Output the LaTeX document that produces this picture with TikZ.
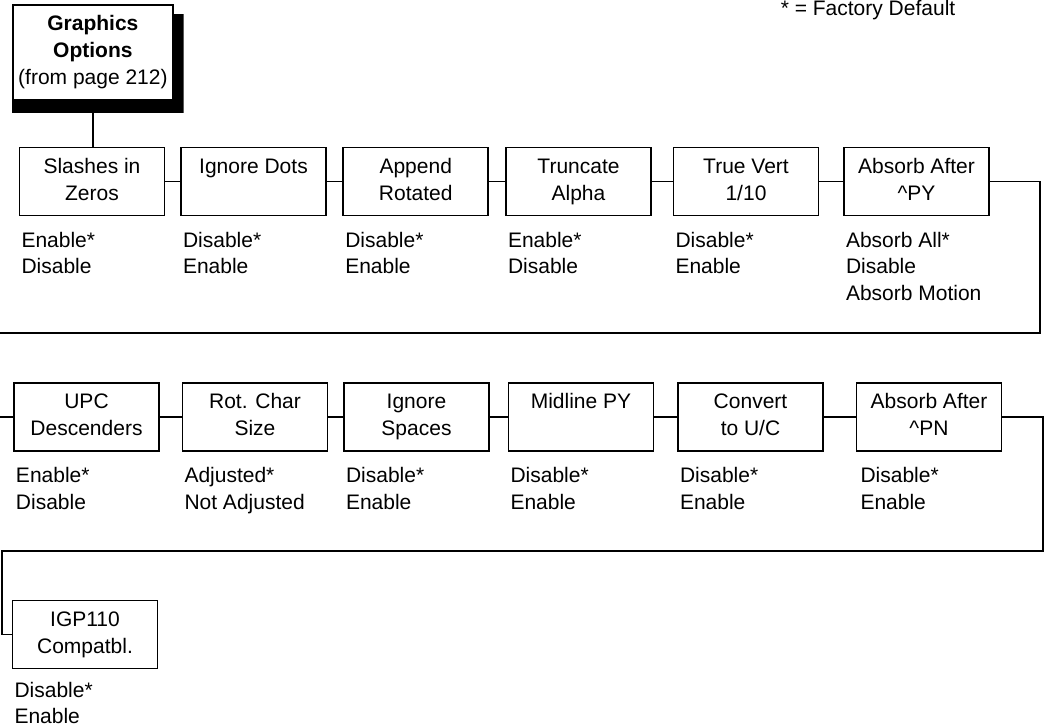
\documentclass[tikz,border=0pt]{standalone}
\usepackage{fontspec}
\setmainfont{Liberation Sans}
\usetikzlibrary{calc}

\begin{document}
\begin{tikzpicture}[x=1pt,y=1pt,line width=1.6pt,
  menubox/.style={draw,minimum width=145,minimum height=68,inner sep=0pt,align=center,
    font=\fontsize{21}{27}\selectfont},
  opts/.style={anchor=north west,inner sep=0pt,align=left,font=\fontsize{21}{26.5}\selectfont}]
  \useasboundingbox (0,0) rectangle (1044,-727);
  \node[anchor=base west,inner sep=0pt,font=\fontsize{21}{26}\selectfont] (fd) at (780,-16) {* = Factory Default};
  \node[menubox,minimum width=160,minimum height=95] (gfx) at (92.9,-52.5)
    {\strut\textbf{Graphics}\\\strut\textbf{Options}\\\strut(from page 212)};
  \fill ($(gfx.north east)+(0,-10)$) -- ++(10,0) |- ($(gfx.south west)+(0,-12)$)
    -- (gfx.south west) -- (gfx.south east) -- cycle;
  \node[menubox] (sz)  at (92,-181.5)    {\strut Slashes in\\\strut Zeros};
  \node[menubox] (igd) at (253.5,-181.5) {\strut Ignore Dots\\\strut};
  \node[menubox] (apr) at (415.75,-181.5){\strut Append\\\strut Rotated};
  \node[menubox] (tra) at (578.5,-181.5) {\strut Truncate\\\strut Alpha};
  \node[menubox] (tvt) at (746,-181.5)   {\strut True Vert\\\strut 1/10};
  \node[menubox] (apy) at (916.5,-181.5) {\strut Absorb After\\\strut \^{}PY};
  \node[menubox] (upc) at (86.5,-417)    {\strut UPC\\\strut Descenders};
  \node[menubox] (rcs) at (255,-417)     {\strut Rot. Char\\\strut Size};
  \node[menubox] (isp) at (416.5,-417)   {\strut Ignore\\\strut Spaces};
  \node[menubox] (mpy) at (581,-417)     {\strut Midline PY\\\strut};
  \node[menubox] (cuc) at (750.5,-417)   {\strut Convert\\\strut to U/C};
  \node[menubox] (apn) at (929,-417)     {\strut Absorb After\\\strut \^{}PN};
  \node[menubox] (igp) at (85,-634.5)    {\strut IGP110\\\strut Compatbl.};
  \node[opts] (sz-o)  at ($(sz.south west)+(2,-15)$)  {Enable*\\Disable};
  \node[opts] (igd-o) at ($(igd.south west)+(2,-15)$) {Disable*\\Enable};
  \node[opts] (apr-o) at ($(apr.south west)+(2,-15)$) {Disable*\\Enable};
  \node[opts] (tra-o) at ($(tra.south west)+(2,-15)$) {Enable*\\Disable};
  \node[opts] (tvt-o) at ($(tvt.south west)+(2,-15)$) {Disable*\\Enable};
  \node[opts] (apy-o) at ($(apy.south west)+(2,-15)$) {Absorb All*\\Disable\\Absorb Motion};
  \node[opts] (upc-o) at ($(upc.south west)+(2,-15)$) {Enable*\\Disable};
  \node[opts] (rcs-o) at ($(rcs.south west)+(2,-15)$) {Adjusted*\\Not Adjusted};
  \node[opts] (isp-o) at ($(isp.south west)+(2,-15)$) {Disable*\\Enable};
  \node[opts] (mpy-o) at ($(mpy.south west)+(2,-15)$) {Disable*\\Enable};
  \node[opts] (cuc-o) at ($(cuc.south west)+(2,-15)$) {Disable*\\Enable};
  \node[opts] (apn-o) at ($(apn.south west)+(4,-15)$) {Disable*\\Enable};
  \node[opts] (igp-o) at ($(igp.south west)+(2,-12)$) {Disable*\\Enable};
  \draw (gfx.south) -- (gfx.south |- sz.north);
  \draw (sz) -- (igd) -- (apr) -- (tra) -- (tvt) -- (apy);
  \draw (upc) -- (rcs) -- (isp) -- (mpy) -- (cuc) -- (apn);
  \coordinate (r1) at (1040,-333);
  \coordinate (l1) at (-5,-333);
  \coordinate (r2) at (1043,-551);
  \coordinate (l2) at (2,-551);
  \draw (apy.east) -| (r1) -- (l1) |- (upc.west);
  \draw (apn.east) -| (r2) -- (l2) |- (igp.west);
\end{tikzpicture}
\end{document}
